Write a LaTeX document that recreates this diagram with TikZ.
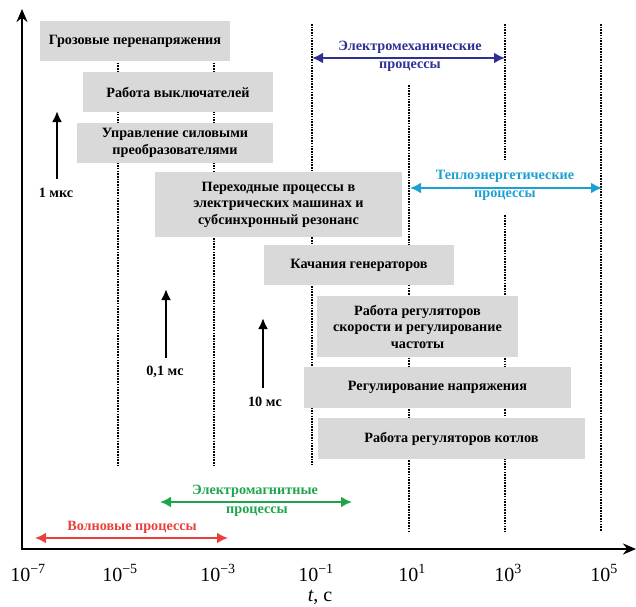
\documentclass[tikz,border=0pt]{standalone}
\usepackage{fontspec}
\setmainfont{Liberation Serif}
\usetikzlibrary{arrows.meta}
\definecolor{boxgray}{HTML}{D9D9D9}
\definecolor{cMech}{HTML}{2E3192}
\definecolor{cTeplo}{HTML}{1CA0D3}
\definecolor{cEM}{HTML}{1EA54B}
\definecolor{cWave}{HTML}{E8403A}
\newcommand{\tkl}[1]{10\textsuperscript{#1}}
\begin{document}
\begin{tikzpicture}[x=1pt,y=-1pt,
  box/.style={fill=boxgray, draw=none, inner sep=0pt, align=center, font=\bfseries\fontsize{14.2}{16.5}\selectfont},
  gridline/.style={line width=2.1pt, dash pattern=on 1.6pt off 1.1pt},
  axisline/.style={line width=2.6pt, line join=miter, {Stealth[length=13pt,width=11pt]}-{Stealth[length=13pt,width=11pt]}},
  uparrow/.style={line width=2.5pt, -{Latex[length=11pt,width=10pt]}},
  span/.style={line width=2.4pt, {Latex[length=11pt,width=11pt]}-{Latex[length=11pt,width=11pt]}},
  lbl/.style={font=\bfseries\fontsize{14.2}{16}\selectfont, inner sep=0pt},
  tick/.style={font=\fontsize{20}{22}\selectfont, inner sep=0pt},
]
\useasboundingbox (0,0) rectangle (636,606);

% dotted guide lines
\coordinate (g1t) at (118,22);  \coordinate (g1b) at (118,465);
\coordinate (g2t) at (214,22);  \coordinate (g2b) at (214,465);
\coordinate (g3t) at (312,24);  \coordinate (g3b) at (312,465);
\coordinate (g4t) at (409,85);  \coordinate (g4b) at (409,531);
\coordinate (g5t) at (505,24);  \coordinate (g5m) at (505,160);
\coordinate (g5n) at (505,215); \coordinate (g5b) at (505,531);
\coordinate (g6t) at (601,24);  \coordinate (g6b) at (601,531);
\draw[gridline] (g1t) -- (g1b);
\draw[gridline] (g2t) -- (g2b);
\draw[gridline] (g3t) -- (g3b);
\draw[gridline] (g4t) -- (g4b);
\draw[gridline] (g5t) -- (g5m);
\draw[gridline] (g5n) -- (g5b);
\draw[gridline] (g6t) -- (g6b);

% boxes
\node[box, minimum width=190pt, minimum height=40pt] (b1) at (135,41) {Грозовые перенапряжения};
\node[box, minimum width=190pt, minimum height=40pt] (b2) at (178,92) {Работа выключателей};
\node[box, minimum width=196pt, minimum height=40pt] (b3) at (175,143) {Управление силовыми\\преобразователями};
\node[box, minimum width=247pt, minimum height=65pt] (b4) at (278.5,204.5) {Переходные процессы в\\электрических машинах и\\субсинхронный резонанс};
\node[box, minimum width=190pt, minimum height=40pt] (b5) at (359,265) {Качания генераторов};
\node[box, minimum width=201pt, minimum height=61pt] (b6) at (417.5,326.5) {Работа регуляторов\\скорости и регулирование\\частоты};
\node[box, minimum width=267pt, minimum height=41pt] (b7) at (437.5,387.5) {Регулирование напряжения};
\node[box, minimum width=267pt, minimum height=41pt] (b8) at (451.5,438.5) {Работа регуляторов котлов};

% axes
\coordinate (ytop) at (22,9);
\coordinate (O) at (22,549);
\coordinate (xend) at (636,549);
\draw[axisline] (ytop) -- (O) -- (xend);

% up arrows with labels
\node[lbl] (u1l) at (56,193) {1 мкс};
\coordinate (u1s) at (57,179); \coordinate (u1e) at (57,111);
\draw[uparrow] (u1s) -- (u1e);
\node[lbl] (u2l) at (165,372) {0,1 мс};
\coordinate (u2s) at (166,358); \coordinate (u2e) at (166,289);
\draw[uparrow] (u2s) -- (u2e);
\node[lbl] (u3l) at (265,402) {10 мс};
\coordinate (u3s) at (263,388); \coordinate (u3e) at (263,318);
\draw[uparrow] (u3s) -- (u3e);

% range arrows
\coordinate (emL) at (312,58); \coordinate (emR) at (505,58);
\draw[span, cMech] (emL) -- (emR);
\node[lbl, text=cMech] (emA) at (410,47) {Электромеханические};
\node[lbl, text=cMech] (emB) at (410,67) {процессы};

\coordinate (teL) at (410,188); \coordinate (teR) at (602,188);
\draw[span, cTeplo] (teL) -- (teR);
\node[lbl, text=cTeplo] (teA) at (505,176) {Теплоэнергетические};
\node[lbl, text=cTeplo] (teB) at (505,196) {процессы};

\coordinate (gmL) at (160,502); \coordinate (gmR) at (352,502);
\draw[span, cEM] (gmL) -- (gmR);
\node[lbl, text=cEM] (gmA) at (255,491) {Электромагнитные};
\node[lbl, text=cEM] (gmB) at (257,512) {процессы};

\coordinate (wvL) at (35,538); \coordinate (wvR) at (228,538);
\draw[span, cWave] (wvL) -- (wvR);
\node[lbl, text=cWave] (wv) at (132,527) {Волновые процессы};

% tick labels
\node[tick] (t7) at (28,573) {\tkl{−7}};
\node[tick] (t5) at (120,573) {\tkl{−5}};
\node[tick] (t3) at (218,573) {\tkl{−3}};
\node[tick] (t1) at (316,573) {\tkl{−1}};
\node[tick] (p1) at (412,573) {\tkl{1}};
\node[tick] (p3) at (508,573) {\tkl{3}};
\node[tick] (p5) at (604,573) {\tkl{5}};
\node[tick] (tl) at (320,597) {\textit{t}, с};
\end{tikzpicture}
\end{document}
